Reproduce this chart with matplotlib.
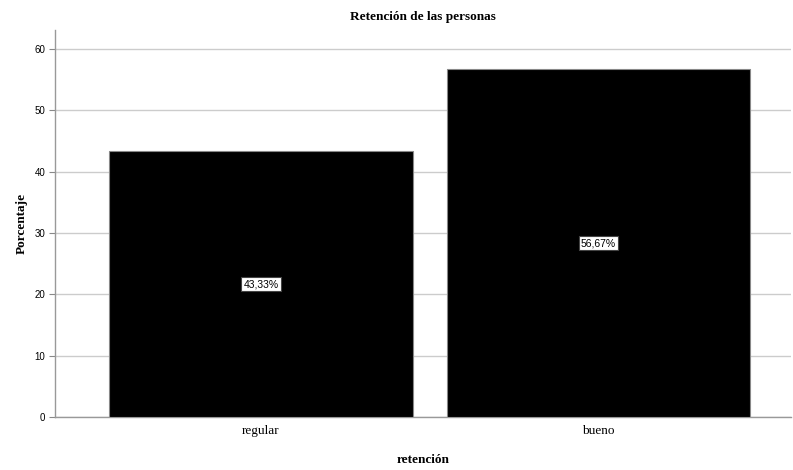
import matplotlib
matplotlib.use("Agg")
import matplotlib.pyplot as plt

categorias = ["regular", "bueno"]
porcentajes = [43.33, 56.67]
yticks = [0, 10, 20, 30, 40, 50, 60]

fig = plt.figure(figsize=(7.93, 4.70), dpi=100)
ax = fig.add_axes([55 / 793, 1 - 417 / 470, 736 / 793, 387 / 470])

x = list(range(len(categorias)))
barras = ax.bar(x, porcentajes, width=0.9, color="black", edgecolor="#888888",
                linewidth=0.8, zorder=3)

for b, v in zip(barras, porcentajes):
    ax.text(b.get_x() + b.get_width() / 2, v / 2, f"{v:.2f}%".replace(".", ","),
            ha="center", va="center", fontsize=7.5, family="Liberation Sans",
            color="black", zorder=4,
            bbox=dict(boxstyle="square,pad=0.2", fc="white", ec="#444444", lw=0.8))

ax.set_xlim(-0.61, 1.57)
ax.set_ylim(0, 63.1)
ax.set_xticks(x)
ax.set_xticklabels(categorias, family="Liberation Serif", fontsize=9.5)
ax.set_yticks(yticks)
ax.set_yticklabels([str(t) for t in yticks], family="Liberation Sans", fontsize=7)
ax.tick_params(axis="x", length=0, pad=6)
ax.tick_params(axis="y", length=4, color="#888888", width=0.8, pad=3)

ax.yaxis.grid(True, color="#cccccc", linewidth=1.0, zorder=0)
ax.set_axisbelow(True)
for s in ["top", "right"]:
    ax.spines[s].set_visible(False)
for s in ["left", "bottom"]:
    ax.spines[s].set_color("#999999")
    ax.spines[s].set_linewidth(1.0)

ax.set_title("Retención de las personas", family="Liberation Serif",
             fontweight="bold", fontsize=9.5, pad=7)
ax.set_xlabel("retención", family="Liberation Serif", fontweight="bold",
              fontsize=9.5, labelpad=12)
ax.set_ylabel("Porcentaje", family="Liberation Serif", fontweight="bold",
              fontsize=9.5, labelpad=5)

fig.savefig("out.png", dpi=100)
